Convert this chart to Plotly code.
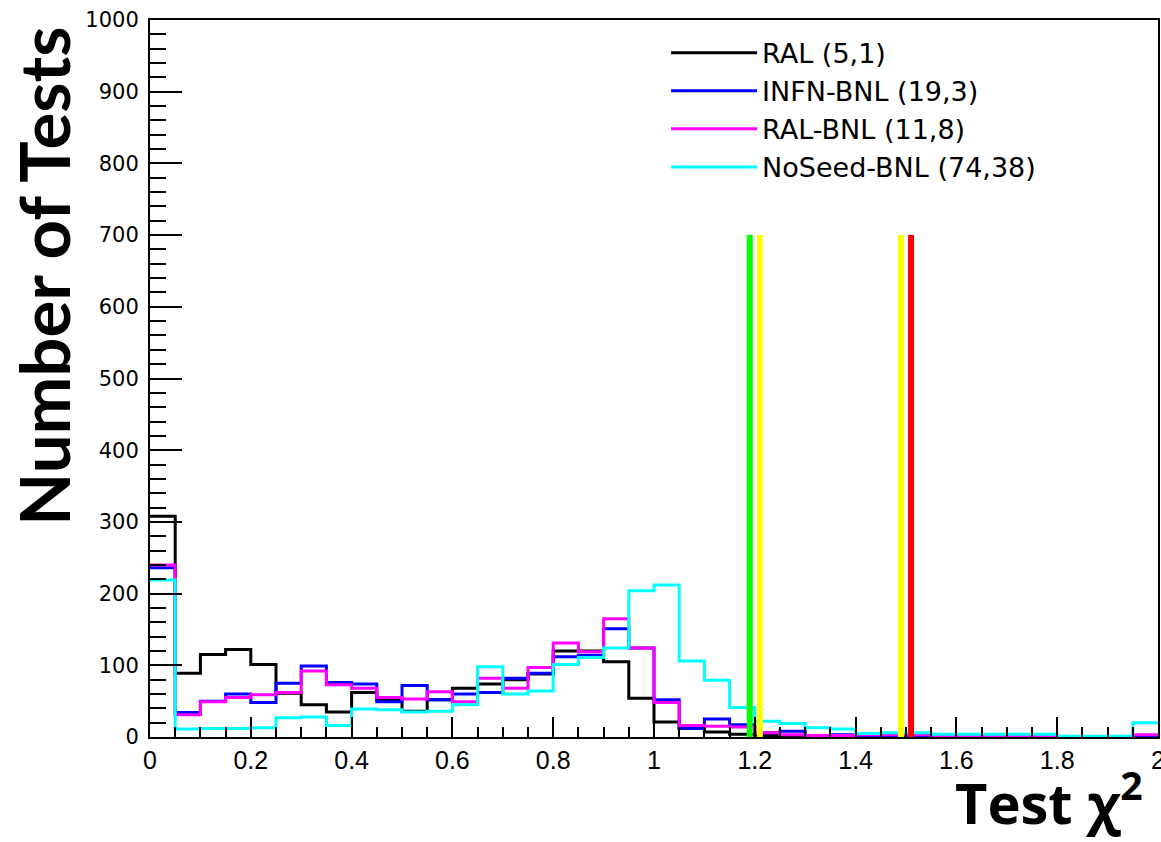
import numpy as np
import plotly.graph_objects as go

# ---------------- data ----------------
BIN_WIDTH = 0.05
X_MIN, X_MAX = 0.0, 2.0

series_names = ["RAL (5,1)", "INFN-BNL (19,3)", "RAL-BNL (11,8)", "NoSeed-BNL (74,38)"]
series_colors = ["#000000", "#0000ff", "#ff00ff", "#00ffff"]

ral = [308, 89, 115, 122, 101, 61, 45, 35, 62, 52,
       36, 52, 68, 74, 80, 88, 120, 120, 105, 54,
       21, 12, 7, 4, 2, 1, 1, 0, 0, 0,
       0, 0, 0, 0, 0, 0, 0, 0, 0, 0]
infn_bnl = [236, 34, 50, 60, 48, 75, 99, 76, 74, 49,
            72, 52, 60, 62, 82, 89, 112, 114, 151, 124,
            52, 12, 25, 17, 6, 8, 1, 3, 1, 1,
            1, 1, 1, 0, 0, 0, 0, 0, 0, 1]
ral_bnl = [240, 31, 49, 55, 59, 62, 92, 73, 68, 55,
           53, 63, 49, 82, 68, 97, 131, 119, 165, 124,
           48, 16, 15, 14, 6, 3, 2, 2, 3, 3,
           3, 1, 1, 1, 1, 1, 0, 0, 0, 3]
noseed_bnl = [219, 11, 12, 12, 13, 27, 28, 16, 39, 38,
              35, 36, 45, 98, 60, 64, 101, 111, 124, 204,
              212, 106, 79, 41, 22, 19, 13, 11, 5, 6,
              6, 4, 4, 4, 4, 4, 1, 1, 1, 20]

cut_positions = [1.19, 1.21, 1.49, 1.51]
cut_colors = ["#00ff00", "#ffff00", "#ffff00", "#ff0000"]
cut_height = 700

x_tick_values = [0, 0.2, 0.4, 0.6, 0.8, 1.0, 1.2, 1.4, 1.6, 1.8, 2.0]
x_tick_labels = ["0", "0.2", "0.4", "0.6", "0.8", "1", "1.2", "1.4", "1.6", "1.8", "2"]

x_title = "Test χ<sup>2</sup>"
y_title = "Number of Tests"

# ---------------- figure ----------------
edges = np.round(np.arange(X_MIN, X_MAX + BIN_WIDTH / 2, BIN_WIDTH), 4)

fig = go.Figure()
for name, color, vals in zip(series_names, series_colors,
                             [ral, infn_bnl, ral_bnl, noseed_bnl]):
    xs = list(edges[:-1]) + [edges[-1]]
    ys = list(vals) + [vals[-1]]
    fig.add_trace(go.Scatter(x=xs, y=ys, mode="lines", name=name,
                             line=dict(color=color, width=3, shape="hv")))

for pos, col in zip(cut_positions, cut_colors):
    fig.add_trace(go.Scatter(x=[pos, pos], y=[0, cut_height], mode="lines",
                             line=dict(color=col, width=6), showlegend=False,
                             hoverinfo="skip"))

fig.update_layout(
    width=1161, height=842,
    margin=dict(l=150, r=3, t=20, b=105),
    plot_bgcolor="white", paper_bgcolor="white",
    font=dict(family="Liberation Sans, Arial, sans-serif", color="black"),
    legend=dict(
        x=0.512, y=0.988, xanchor="left", yanchor="top",
        bgcolor="rgba(0,0,0,0)", borderwidth=0,
        font=dict(size=27, family="DejaVu Sans, Liberation Sans, sans-serif"),
        itemwidth=86, tracegroupgap=0,
    ),
    showlegend=True,
)

fig.update_xaxes(
    range=[X_MIN, X_MAX], showgrid=False, zeroline=False, automargin=False,
    showline=True, linecolor="black", linewidth=2, mirror=True,
    ticks="inside", ticklen=20, tickwidth=1.5, tickcolor="black",
    tickmode="array", tickvals=x_tick_values, ticktext=x_tick_labels,
    minor=dict(dtick=0.05, tick0=0, ticks="inside", ticklen=10, tickwidth=1.5, tickcolor="black"),
    tickfont=dict(size=25, family="Liberation Sans Narrow, Liberation Sans, Arial"),
    ticklabelstandoff=0, ticklabeloverflow="allow",
)
fig.update_yaxes(
    range=[0, 1000], showgrid=False, zeroline=False, automargin=False,
    showline=True, linecolor="black", linewidth=2, mirror=True,
    ticks="inside", ticklen=32, tickwidth=1.5, tickcolor="black",
    dtick=100, tick0=0,
    minor=dict(dtick=20, ticks="inside", ticklen=16, tickwidth=1.5, tickcolor="black"),
    tickfont=dict(size=21, family="DejaVu Sans, Liberation Sans"),
    ticklabelstandoff=5,
)

fig.add_annotation(
    text=y_title, xref="paper", yref="paper", x=-0.105, y=0.642,
    textangle=-90, showarrow=False, xanchor="center", yanchor="middle",
    font=dict(family="Lato, Open Sans, sans-serif", size=69, color="black", weight="bold"),
)
fig.add_annotation(
    text=x_title, xref="paper", yref="paper", x=0.987, y=-0.147,
    showarrow=False, xanchor="right", yanchor="bottom",
    font=dict(family="Open Sans, Lato, sans-serif", size=56, color="black", weight="bold"),
)

fig.write_html("out.html", config={"displayModeBar": False},
               post_script="document.body.style.margin='0';document.body.style.overflow='hidden';")
